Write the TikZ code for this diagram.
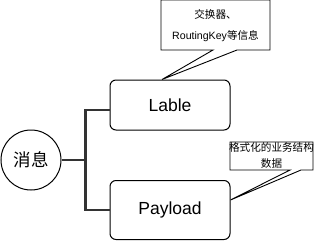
\documentclass[tikz,border=0pt]{standalone}
\usepackage{fontspec}
\setmainfont{Liberation Sans}
\newfontfamily\cjk{Noto Sans CJK SC}
\usetikzlibrary{positioning}

\begin{document}
\begin{tikzpicture}[x=1pt, y=-1pt,
  part/.style={draw, line width=1pt, rounded corners=6pt, minimum width=120pt, font=\fontsize{17.5}{20}\selectfont},
  tree/.style={draw=black!80, line width=2.2pt},
  note/.style={align=center, inner sep=0pt},
  bubble/.style={draw, fill=white, line width=0.9pt}]
\useasboundingbox (0,0) rectangle (331,241);
\node[circle, draw, line width=1pt, minimum size=60pt, inner sep=0pt, font=\cjk\fontsize{17.5}{20}\selectfont] (msg) at (31,160) {消息};
\node[part, minimum height=50pt] (lable) at (170,105) {Lable};
\node[part, minimum height=59pt] (payload) at (170,210) {Payload};
\coordinate (fork) at (85.5,160);
\draw[tree] (msg) -- (fork);
\draw[tree] ([yshift=-5pt]lable.west) -| (fork) |- (payload);

% callouts
\coordinate (tip1) at ([xshift=-8pt]lable.north);
\draw[bubble] (161,0) -- (270,0) -- (270,50) -- (237,50) -- (tip1) -- (213,50) -- (161,50) -- cycle;
\node[note, font=\fontsize{10.6}{21}\selectfont] (info) at (215.5,26) {{\cjk 交换器、}\\RoutingKey{\cjk 等信息}};
\coordinate (tip2) at ([yshift=10pt]payload.east);
\draw[bubble] (230,142) -- (313,142) -- (313,170) -- (301,170) -- (tip2) -- (290,170) -- (230,170) -- cycle;
\node[note, font=\cjk\fontsize{10.6}{16}\selectfont] (data) at (271.5,155) {格式化的业务结构\\数据};
\end{tikzpicture}
\end{document}
